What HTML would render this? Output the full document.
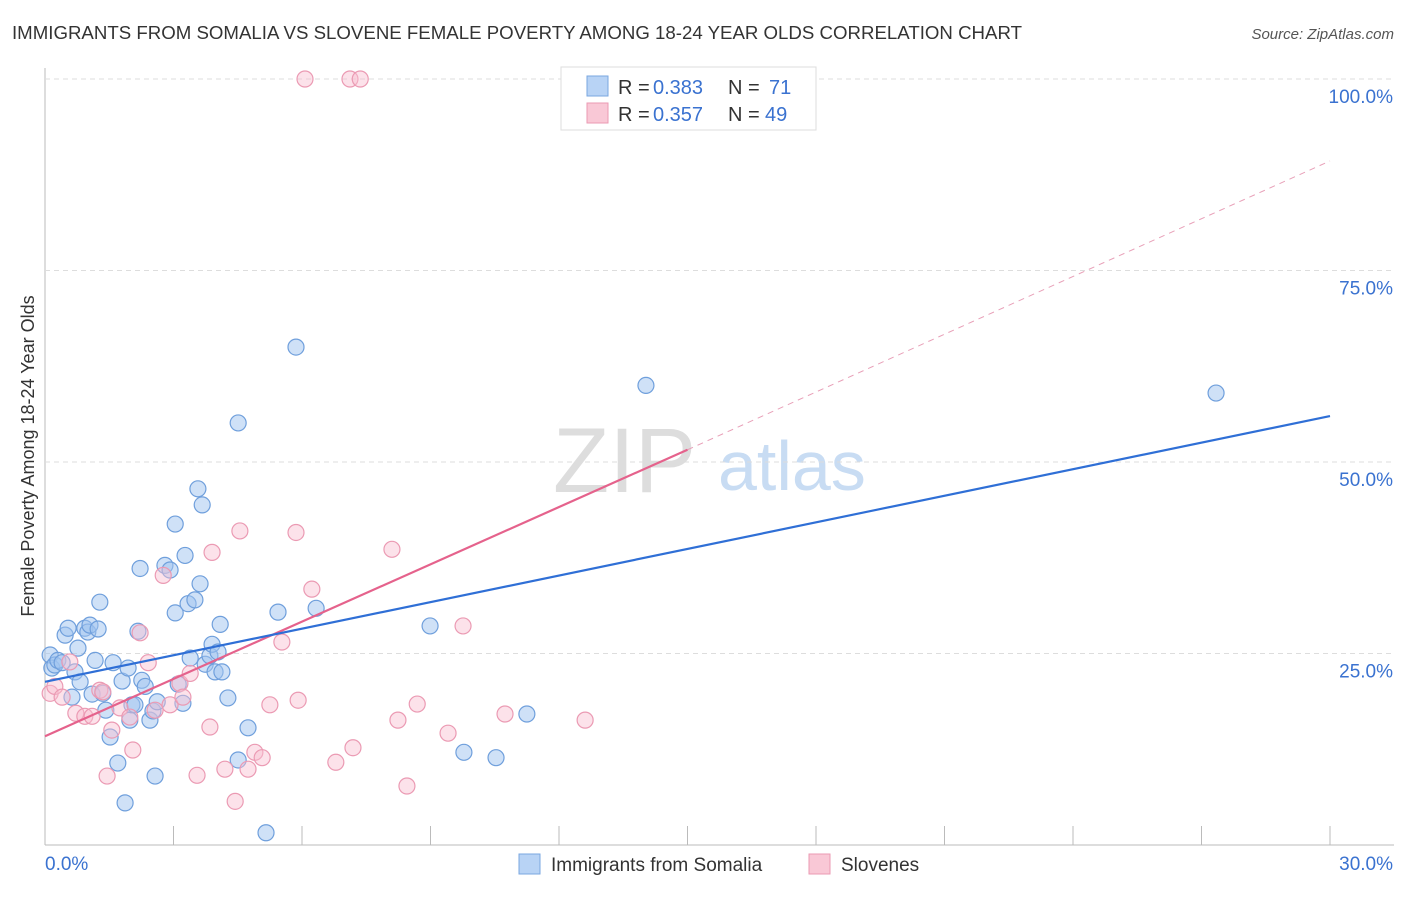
<!DOCTYPE html>
<html><head><meta charset="utf-8"><style>
body{margin:0;background:#fff;font-family:"Liberation Sans",sans-serif}
svg text{font-family:"Liberation Sans",sans-serif}
</style></head><body>
<svg id="c" width="1406" height="892">
<text x="12" y="39" font-size="18" fill="#333" textLength="1010" lengthAdjust="spacingAndGlyphs">IMMIGRANTS FROM SOMALIA VS SLOVENE FEMALE POVERTY AMONG 18-24 YEAR OLDS CORRELATION CHART</text>
<text x="1394" y="39" font-size="15" fill="#555" font-style="italic" text-anchor="end">Source: ZipAtlas.com</text>
<text x="34" y="456" font-size="18" fill="#333" transform="rotate(-90 34 456)" text-anchor="middle">Female Poverty Among 18-24 Year Olds</text>
<text x="553" y="492" font-size="92" fill="#ddd" font-family="Liberation Serif">ZIP</text>
<text x="718" y="490" font-size="70" fill="#c8dcf3">atlas</text>
<g id="grid"></g><g id="marks"></g>
<g>
<rect x="561" y="67" width="255" height="63" fill="#fff" stroke="#ddd"/>
<rect x="587" y="76" width="21" height="20" fill="#b8d3f5" stroke="#7aa7e0"/>
<rect x="587" y="103" width="21" height="20" fill="#f9c8d6" stroke="#eb9ab3"/>
<text x="618" y="94" font-size="20" fill="#333">R =</text>
<text x="653" y="94" font-size="20" fill="#3a72d0">0.383</text>
<text x="728" y="94" font-size="20" fill="#333">N =</text>
<text x="769" y="94" font-size="20" fill="#3a72d0">71</text>
<text x="618" y="121" font-size="20" fill="#333">R =</text>
<text x="653" y="121" font-size="20" fill="#3a72d0">0.357</text>
<text x="728" y="121" font-size="20" fill="#333">N =</text>
<text x="765" y="121" font-size="20" fill="#3a72d0">49</text>
</g>
<g>
<rect x="519" y="854" width="21" height="20" fill="#b8d3f5" stroke="#7aa7e0"/>
<text x="551" y="871" font-size="19" fill="#333">Immigrants from Somalia</text>
<rect x="809" y="854" width="21" height="20" fill="#f9c8d6" stroke="#eb9ab3"/>
<text x="841" y="871" font-size="19" fill="#333">Slovenes</text>
</g>
</svg>
<script>
const xTicks=[0,3,6,9,12,15,18,21,24,27,30];
const yTicks=[25,50,75,100];
const blueX=[0.12,0.16,0.23,0.30,0.40,0.47,0.54,0.63,0.70,0.77,0.82,0.93,1.00,1.05,1.10,1.17,1.24,1.28,1.35,1.42,1.52,1.59,1.70,1.80,1.87,1.94,1.98,2.03,2.10,2.17,2.22,2.26,2.34,2.45,2.52,2.57,2.62,2.80,2.92,3.04,3.04,3.11,3.22,3.27,3.34,3.39,3.50,3.57,3.62,3.67,3.74,3.85,3.90,3.97,4.04,4.09,4.13,4.27,4.51,4.51,4.74,5.16,5.44,5.86,6.33,8.99,9.78,10.53,11.25,14.03,27.34];
const blueY=[24.8,23.1,23.5,24.1,23.8,27.4,28.3,19.3,22.6,25.7,21.3,28.3,27.8,28.7,19.7,24.1,28.2,31.7,19.8,17.6,14.1,23.8,10.7,21.4,5.5,23.1,16.3,18.3,18.3,27.9,36.1,21.5,20.7,16.3,17.5,9.0,18.7,36.5,35.9,41.9,30.3,21.0,18.5,37.8,31.5,24.4,32.0,46.5,34.1,44.4,23.6,24.7,26.2,22.6,25.2,28.8,22.6,19.2,55.1,11.1,15.3,1.6,30.4,65.0,30.9,28.6,12.1,11.4,17.1,60.0,59.0];
const pinkX=[6.07,7.12,7.36,0.12,0.23,0.40,0.58,0.72,0.93,1.10,1.28,1.35,1.45,1.56,1.75,1.98,2.05,2.22,2.41,2.57,2.76,2.92,3.15,3.22,3.39,3.55,3.85,3.90,4.20,4.44,4.55,4.74,4.90,5.07,5.25,5.53,5.86,5.91,6.23,6.79,7.19,8.10,8.24,8.45,8.69,9.41,9.76,10.74,12.61];
const pinkY=[100,100,100,19.8,20.7,19.3,23.9,17.2,16.8,16.8,20.2,20.0,9.0,15.0,17.9,16.7,12.4,27.7,23.8,17.6,35.2,18.3,21.1,19.3,22.4,9.1,15.4,38.2,9.9,5.7,41.0,9.9,12.1,11.4,18.3,26.5,40.8,18.9,33.4,10.8,12.7,38.6,16.3,7.7,18.4,14.6,28.6,17.1,16.3];
const blueTrend=[[0,21.3],[30,56.0]];
const pinkTrend=[[0,14.2],[15,51.6]];
const pinkTrendExt=[[15,51.6],[30,89.3]];
const X=v=>45+v/30*1285, Y=v=>845-v*7.66;
const NS="http://www.w3.org/2000/svg";
function mk(p,t,a){const e=document.createElementNS(NS,t);for(const k in a)e.setAttribute(k,a[k]);p.appendChild(e);return e;}
const g=document.getElementById('grid'), m=document.getElementById('marks');
let e=mk(g,'line',{x1:45,x2:45,y1:68,y2:845,stroke:'#bbb'});


e=mk(g,'line',{x1:45,x2:1394,y1:845,y2:845,stroke:'#bbb'});


yTicks.forEach(v=>{
 e=mk(g,'line',{x1:45,x2:1394,y1:Y(v),y2:Y(v),stroke:'#ddd','stroke-dasharray':'5,4'});
 
 
 e=mk(g,'text',{x:1393,y:Y(v)+24,'font-size':19,fill:'#3a72d0','text-anchor':'end'});e.textContent=v.toFixed(1)+'%';
 
 
});
xTicks.forEach(v=>{
 e=mk(g,'line',{x1:X(v),x2:X(v),y1:826,y2:845,stroke:'#bbb'});
 
 
});
e=mk(g,'text',{x:45,y:870,'font-size':19,fill:'#3a72d0'});e.textContent='0.0%';


e=mk(g,'text',{x:1393,y:870,'font-size':19,fill:'#3a72d0','text-anchor':'end'});e.textContent='30.0%';


blueX.forEach((v,i)=>{
 e=mk(m,'circle',{cx:X(v),cy:Y(blueY[i]),r:8,fill:'rgba(160,196,240,0.5)',stroke:'#6f9fdc','stroke-width':1.2});
 
 
});
pinkX.forEach((v,i)=>{
 e=mk(m,'circle',{cx:X(v),cy:Y(pinkY[i]),r:8,fill:'rgba(248,190,208,0.45)',stroke:'#eb9ab3','stroke-width':1.2});
 
 
});
e=mk(m,'line',{x1:X(pinkTrendExt[0][0]),y1:Y(pinkTrendExt[0][1]),x2:X(pinkTrendExt[1][0]),y2:Y(pinkTrendExt[1][1]),stroke:'#e8a0b8','stroke-dasharray':'6,5','stroke-width':1});


e=mk(m,'line',{x1:X(pinkTrend[0][0]),y1:Y(pinkTrend[0][1]),x2:X(pinkTrend[1][0]),y2:Y(pinkTrend[1][1]),stroke:'#e5628c','stroke-width':2.2});


e=mk(m,'line',{x1:X(blueTrend[0][0]),y1:Y(blueTrend[0][1]),x2:X(blueTrend[1][0]),y2:Y(blueTrend[1][1]),stroke:'#2f6fd6','stroke-width':2.2});


</script>
</body></html>
